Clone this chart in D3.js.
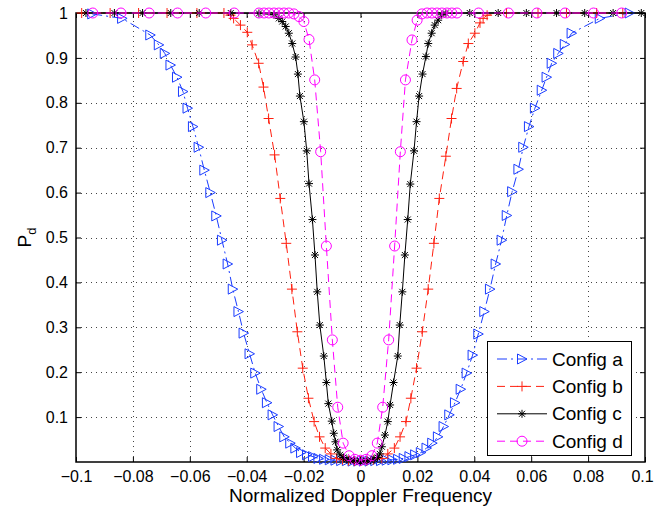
<!DOCTYPE html>
<html><head><meta charset="utf-8">
<script src="https://cdn.jsdelivr.net/npm/d3@7"></script>
<style>body{margin:0;background:#fff}svg{display:block}</style>
</head><body>
<svg id="chart" width="654" height="511"></svg>
<script>
const xTicks = [-0.1,-0.08,-0.06,-0.04,-0.02,0,0.02,0.04,0.06,0.08,0.1];
const xTickLabels = ["\u22120.1","\u22120.08","\u22120.06","\u22120.04","\u22120.02","0","0.02","0.04","0.06","0.08","0.1"];
const yTicks = [0.1,0.2,0.3,0.4,0.5,0.6,0.7,0.8,0.9,1];
const yTickLabels = ["0.1","0.2","0.3","0.4","0.5","0.6","0.7","0.8","0.9","1"];
const seriesNames = ["Config a","Config b","Config c","Config d"];
const xLabel = "Normalized Doppler Frequency";

// Config a
const xA = [-0.0943,-0.0838,-0.0739,-0.0709,-0.0688,-0.0668,-0.0645,-0.0624,-0.0608,-0.0589,-0.0569,-0.0549,-0.0528,-0.0507,-0.0487,-0.0467,-0.0449,-0.0429,-0.0411,-0.0390,-0.0370,-0.0349,-0.0329,-0.0309,-0.0288,-0.0268,-0.0247,-0.0229,-0.0209,-0.0188,-0.0167,-0.0148,-0.0128,-0.0108,-0.0088,-0.0068,-0.0048,-0.0028,-0.0008,
  0.0012,0.0032,0.0052,0.0072,0.0092,0.0112,0.0132,0.0152,0.0172,0.0192,0.0212,0.0232,0.0252,0.0272,0.0292,0.0312,0.0332,0.0352,0.0373,0.0394,0.0414,0.0435,0.0455,0.0475,0.0496,0.0514,0.0533,0.0555,0.0572,0.0592,0.0613,0.0637,0.0654,0.0672,0.0695,0.0718,0.0742,0.0841,0.0946];
const yA = [0.998,0.988,0.951,0.929,0.910,0.884,0.857,0.825,0.788,0.747,0.701,0.650,0.600,0.548,0.494,0.441,0.385,0.335,0.287,0.241,0.198,0.162,0.132,0.105,0.079,0.056,0.042,0.031,0.021,0.016,0.012,0.008,0.006,0.005,0.004,0.003,0.003,0.002,0.002,
  0.002,0.002,0.003,0.003,0.004,0.005,0.006,0.008,0.012,0.016,0.021,0.031,0.042,0.056,0.079,0.105,0.132,0.162,0.198,0.238,0.285,0.335,0.385,0.441,0.494,0.549,0.602,0.652,0.701,0.747,0.788,0.828,0.857,0.888,0.910,0.930,0.955,0.988,1.0];

// Config b
const xB = [-0.0980,-0.0880,-0.0780,-0.0680,-0.0575,-0.0480,-0.0457,-0.0446,-0.0422,-0.0398,-0.0381,-0.0358,-0.0341,-0.0323,-0.0302,-0.0282,-0.0261,-0.0241,-0.0222,-0.0203,-0.0183,-0.0163,-0.0144,-0.0124,-0.0104,-0.0084,-0.0063,-0.0042,-0.0021,0,
  0.0022,0.0045,0.0075,0.0096,0.0119,0.0139,0.0160,0.0177,0.0197,0.0217,0.0238,0.0258,0.0277,0.0300,0.0320,0.0338,0.0361,0.0379,0.0402,0.0420,0.0431,0.0445,0.0513,0.0624,0.0724,0.0830,0.0922];
const yB = [1,1,1,1,1,1,0.995,0.988,0.973,0.957,0.929,0.888,0.835,0.765,0.684,0.587,0.487,0.385,0.290,0.209,0.142,0.090,0.056,0.031,0.018,0.008,0.005,0.003,0.002,0.002,
  0.003,0.005,0.008,0.018,0.031,0.056,0.090,0.142,0.209,0.290,0.385,0.487,0.587,0.681,0.765,0.832,0.892,0.932,0.955,0.978,0.988,0.995,1,1,1,1,1];

// Config c
const xC = [-0.0965,-0.0865,-0.0766,-0.0667,-0.0567,-0.0456,-0.0357,-0.0304,-0.0287,-0.0275,-0.0263,-0.0252,-0.0240,-0.0228,-0.0220,-0.0213,-0.0199,-0.0189,-0.0181,-0.0169,-0.0160,-0.0152,-0.0143,-0.0129,-0.0120,-0.0113,-0.0101,-0.0094,-0.0088,-0.0082,-0.0072,-0.0060,-0.0048,-0.0036,-0.0024,-0.0012,0,
  0.0012,0.0024,0.0036,0.0048,0.0060,0.0068,0.0075,0.0086,0.0096,0.0104,0.0116,0.0131,0.0138,0.0147,0.0156,0.0166,0.0175,0.0188,0.0197,0.0206,0.0218,0.0230,0.0238,0.0250,0.0261,0.0273,0.0285,0.0300,0.0384,0.0484,0.0583,0.0689,0.0788,0.0888,0.0987];
const yC = [1,1,1,1,1,1,0.999,0.996,0.988,0.981,0.970,0.955,0.932,0.902,0.864,0.815,0.758,0.693,0.620,0.540,0.461,0.379,0.305,0.236,0.177,0.130,0.091,0.064,0.045,0.027,0.016,0.010,0.006,0.004,0.003,0.002,0.002,
  0.002,0.003,0.004,0.006,0.010,0.018,0.034,0.060,0.090,0.127,0.177,0.236,0.305,0.379,0.461,0.540,0.619,0.693,0.758,0.815,0.864,0.903,0.932,0.955,0.973,0.984,0.996,0.999,1,1,1,1,1,1,1];

// Config d
const xD = [-0.0941,-0.0842,-0.0743,-0.0643,-0.0544,-0.0444,-0.0357,-0.0339,-0.0322,-0.0304,-0.0287,-0.0269,-0.0252,-0.0234,-0.0216,-0.0199,-0.0181,-0.0161,-0.0140,-0.0120,-0.0099,-0.0080,-0.0061,-0.0040,-0.0020,0,
  0.0020,0.0040,0.0059,0.0078,0.0099,0.0120,0.0140,0.0158,0.0181,0.0199,0.0216,0.0234,0.0251,0.0269,0.0286,0.0304,0.0321,0.0339,0.0415,0.0520,0.0620,0.0719,0.0819,0.0918];
const yD = [1,1,1,1,1,1,1,1,1,1,1,1,1,0.998,0.992,0.981,0.941,0.851,0.691,0.481,0.272,0.122,0.042,0.014,0.006,0.004,
  0.006,0.014,0.042,0.122,0.272,0.481,0.691,0.851,0.940,0.984,0.998,1,1,1,1,1,1,1,1,1,1,1,1,1];

const styles = [
  {color:"#1a3cff", dash:"10,4,2,4", marker:"tri"},
  {color:"#ff2010", dash:"8,5", marker:"plus"},
  {color:"#000000", dash:null, marker:"star"},
  {color:"#ff00ff", dash:"8,5", marker:"circle"}
];
const series = [[xA,yA],[xB,yB],[xC,yC],[xD,yD]].map((s,i)=>({name:seriesNames[i], pts:s[0].map((v,j)=>[v,s[1][j]]), st:styles[i]}));

const font = "'Liberation Sans', Arial, Helvetica, sans-serif";
const svg = d3.select("#chart");
const x = d3.scaleLinear().domain([-0.1,0.1]).range([76,645]);
const y = d3.scaleLinear().domain([0,1]).range([462,13]);

svg.append("rect").attr("width",654).attr("height",511).attr("fill","#fff");

// grid
const grid = svg.append("g").attr("stroke","#444").attr("stroke-width",1).attr("stroke-dasharray","1,4").attr("shape-rendering","crispEdges");
grid.selectAll(".gx").data(xTicks.slice(1,-1)).join("line")
  .attr("x1",d=>Math.round(x(d))+0.5).attr("x2",d=>Math.round(x(d))+0.5).attr("y1",y(0)).attr("y2",y(1));
grid.selectAll(".gy").data(yTicks.slice(0,-1)).join("line")
  .attr("y1",d=>Math.round(y(d))+0.5).attr("y2",d=>Math.round(y(d))+0.5).attr("x1",x(-0.1)).attr("x2",x(0.1));

function styleAxis(g){
  g.attr("font-family",font).attr("font-size",16);
  g.select(".domain").remove();
  g.selectAll(".tick line").attr("stroke","#000").attr("stroke-width",1);
  g.selectAll(".tick text").attr("fill","#000");
}
const gxb = svg.append("g").attr("transform",`translate(0,${y(0)})`)
  .call(d3.axisBottom(x).tickValues(xTicks).tickFormat((d,i)=>xTickLabels[i]).tickSizeInner(-5).tickSizeOuter(0).tickPadding(9)).call(styleAxis);
// keep the right-most label inside the picture
gxb.selectAll(".tick text").filter(d=>d===0.1).attr("dx",-3);
svg.append("g").attr("transform",`translate(${x(-0.1)},0)`)
  .call(d3.axisLeft(y).tickValues(yTicks).tickFormat((d,i)=>yTickLabels[i]).tickSizeInner(-5).tickSizeOuter(0).tickPadding(8)).call(styleAxis);
svg.append("g").attr("transform",`translate(0,${y(1)})`)
  .call(d3.axisTop(x).tickValues(xTicks).tickFormat(()=>"").tickSizeInner(-5).tickSizeOuter(0)).call(styleAxis);
svg.append("g").attr("transform",`translate(${x(0.1)},0)`)
  .call(d3.axisRight(y).tickValues(yTicks).tickFormat(()=>"").tickSizeInner(-5).tickSizeOuter(0)).call(styleAxis);

svg.append("rect").attr("x",x(-0.1)).attr("y",y(1)).attr("width",x(0.1)-x(-0.1)).attr("height",y(0)-y(1))
  .attr("fill","none").attr("stroke","#000").attr("stroke-width",1.5);

// markers
function drawMarker(g, type, color){
  if(type==="tri") g.append("path").attr("d","M-4.5,-5L5,0L-4.5,5Z").attr("fill","none").attr("stroke",color).attr("stroke-width",1);
  else if(type==="plus") g.append("path").attr("d","M-5,0H5M0,-5V5").attr("fill","none").attr("stroke",color).attr("stroke-width",1);
  else if(type==="star") g.append("path").attr("d","M-4,0H4M0,-4V4M-3,-3L3,3M-3,3L3,-3").attr("fill","none").attr("stroke",color).attr("stroke-width",1);
  else if(type==="circle") g.append("circle").attr("r",5).attr("fill","none").attr("stroke",color).attr("stroke-width",1);
}
const line = d3.line().x(d=>x(d[0])).y(d=>y(d[1]));
series.forEach(s=>{
  const g = svg.append("g");
  g.append("path").attr("d",line(s.pts)).attr("fill","none").attr("stroke",s.st.color).attr("stroke-width",1)
    .attr("stroke-dasharray",s.st.dash);
  s.pts.forEach(p=>{
    const m = g.append("g").attr("transform",`translate(${x(p[0])},${y(p[1])})`);
    drawMarker(m, s.st.marker, s.st.color);
  });
});

// legend
const lg = svg.append("g");
lg.append("rect").attr("x",487.5).attr("y",341.5).attr("width",144).attr("height",114).attr("fill","#fff").attr("stroke","#000").attr("stroke-width",1);
series.forEach((s,i)=>{
  const yy = 359 + i*27.4;
  lg.append("line").attr("x1",497).attr("x2",547).attr("y1",yy).attr("y2",yy).attr("stroke",s.st.color).attr("stroke-width",1).attr("stroke-dasharray",s.st.dash);
  const m = lg.append("g").attr("transform",`translate(522,${yy})`);
  drawMarker(m, s.st.marker, s.st.color);
  lg.append("text").attr("x",552).attr("y",yy).attr("dy","0.35em").attr("font-family",font).attr("font-size",19).text(s.name);
});

// labels
svg.append("text").attr("x",(x(-0.1)+x(0.1))/2).attr("y",502).attr("text-anchor","middle")
  .attr("font-family",font).attr("font-size",19).text(xLabel);
const yl = svg.append("text").attr("transform",`translate(31,${(y(0)+y(1))/2}) rotate(-90)`).attr("text-anchor","middle")
  .attr("font-family",font).attr("font-size",19);
yl.append("tspan").text("P");
yl.append("tspan").attr("font-size",13).attr("dy",5).text("d");
</script>
</body></html>
